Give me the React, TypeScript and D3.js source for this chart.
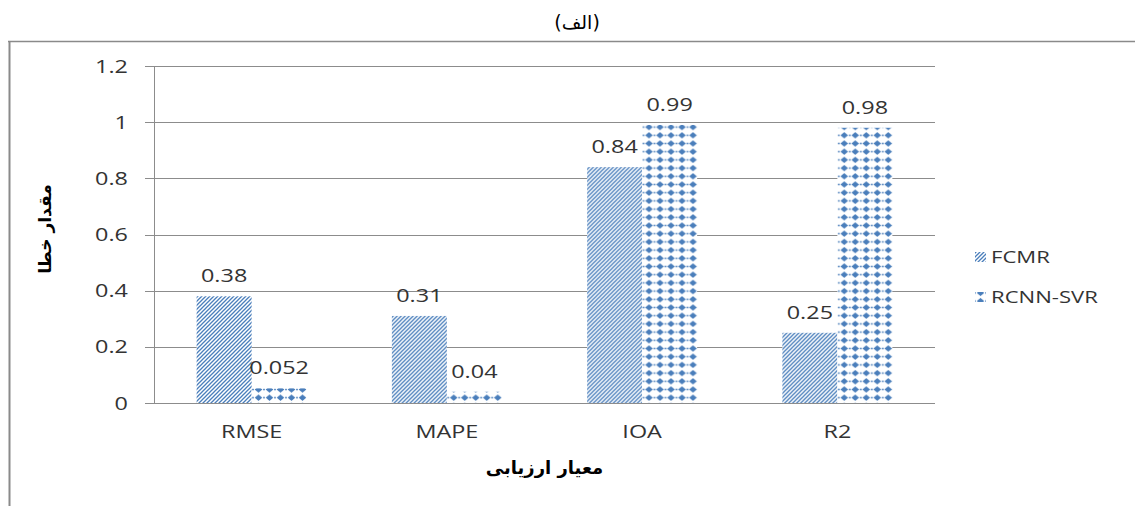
import React from "react";
import * as d3 from "d3";

// Evaluation metrics on the x axis
const categories = ["RMSE", "MAPE", "IOA", "R2"];
// Series values per metric
const fcmrValues = [0.38, 0.31, 0.84, 0.25];
const rcnnValues = [0.052, 0.04, 0.99, 0.98];
const seriesNames = ["FCMR", "RCNN-SVR"];
const seriesValues = [fcmrValues, rcnnValues];
const valueLabels = [
  ["0.38", "0.31", "0.84", "0.25"],
  ["0.052", "0.04", "0.99", "0.98"],
];
// Y axis ticks
const yTicks = [0, 0.2, 0.4, 0.6, 0.8, 1, 1.2];
const yTickLabels = ["0", "0.2", "0.4", "0.6", "0.8", "1", "1.2"];

const W = 1135;
const H = 506;
const plot = { left: 154, right: 935, top: 66, bottom: 403 };
const NUM_FONT = "'Open Sans', 'DejaVu Sans', sans-serif";
const AR_FONT = "'DejaVu Sans', 'Noto Sans', sans-serif";
const TEXT_COLOR = "#333333";
const GRID = "#8c8c8c";
const BLUE = "#4a7ebb";
const SX = 1.3; // horizontal stretch applied to the Latin labels

const patternIds = ["pat-diag", "pat-diamond"];

function Stretched({ x, y, size, anchor, children, weight }: any) {
  return (
    <text
      transform={`translate(${x},${y}) scale(${SX},1)`}
      fontFamily={NUM_FONT}
      fontSize={size}
      fontWeight={weight || "normal"}
      fill={TEXT_COLOR}
      textAnchor={anchor || "middle"}
    >
      {children}
    </text>
  );
}

export default function App() {
  const x0 = d3
    .scaleBand<string>()
    .domain(categories)
    .range([plot.left, plot.right])
    .padding(0);
  const step = x0.bandwidth();
  const barW = 55;
  const x1 = d3
    .scaleBand<string>()
    .domain(seriesNames)
    .range([step / 2 - barW, step / 2 + barW])
    .padding(0);
  const y = d3.scaleLinear().domain([0, 1.2]).range([plot.bottom, plot.top]);

  return (
    <svg
      width={W}
      height={H}
      style={{ position: "absolute", left: 0, top: 0, background: "#fff" }}
    >
      <defs>
        <pattern
          id="pat-diag"
          patternUnits="userSpaceOnUse"
          width={4}
          height={4}
        >
          <rect width={4} height={4} fill="#ffffff" />
          <path
            d="M-1,1 l2,-2 M0,4 l4,-4 M3,5 l2,-2"
            stroke={BLUE}
            strokeWidth={1.3}
          />
        </pattern>
        <pattern
          id="pat-diamond"
          patternUnits="userSpaceOnUse"
          width={11}
          height={8.2}
        >
          <rect width={11} height={8.2} fill="#ffffff" />
          <polygon points="5.5,1 9.3,4.1 5.5,7.2 1.7,4.1" fill={BLUE} />
          <circle cx={0} cy={4.1} r={0.9} fill={BLUE} />
          <circle cx={11} cy={4.1} r={0.9} fill={BLUE} />
        </pattern>
      </defs>

      {/* frame */}
      <line x1={8} x2={W} y1={41.5} y2={41.5} stroke="#8a8a8a" strokeWidth={1.5} />
      <line x1={9.5} x2={9.5} y1={41} y2={H} stroke="#8a8a8a" strokeWidth={2} />

      {/* title */}
      <text
        x={577}
        y={29}
        fontFamily={AR_FONT}
        fontSize={19}
        textAnchor="middle"
        fill="#000"
      >
        (الف)
      </text>

      {/* gridlines and y ticks */}
      {yTicks.map((t, i) => (
        <g key={t}>
          <line
            x1={plot.left - 9}
            x2={plot.right}
            y1={Math.round(y(t)) + 0.5}
            y2={Math.round(y(t)) + 0.5}
            stroke={GRID}
            strokeWidth={1}
          />
          <Stretched x={128} y={y(t) + 6.5} size={18} anchor="end">
            {yTickLabels[i]}
          </Stretched>
        </g>
      ))}
      <line
        x1={plot.left + 0.5}
        x2={plot.left + 0.5}
        y1={plot.top}
        y2={plot.bottom}
        stroke={GRID}
        strokeWidth={1}
      />

      {/* bars */}
      {categories.map((c, ci) => (
        <g key={c} transform={`translate(${x0(c)},0)`}>
          {seriesNames.map((s, si) => {
            const v = seriesValues[si][ci];
            const bx = x1(s) as number;
            return (
              <g key={s}>
                <rect
                  x={bx}
                  y={y(v)}
                  width={x1.bandwidth()}
                  height={y(0) - y(v)}
                  fill={`url(#${patternIds[si]})`}
                />
                <Stretched
                  x={bx + x1.bandwidth() / 2}
                  y={y(v) - 14}
                  size={18}
                >
                  {valueLabels[si][ci]}
                </Stretched>
              </g>
            );
          })}
          <Stretched x={step / 2} y={438} size={18}>
            {c}
          </Stretched>
        </g>
      ))}

      {/* axis titles */}
      <text
        x={(plot.left + plot.right) / 2}
        y={474}
        fontFamily={AR_FONT}
        fontSize={18}
        fontWeight="bold"
        textAnchor="middle"
        fill="#000"
      >
        معیار ارزیابی
      </text>
      <text
        transform="translate(51,229) rotate(-90)"
        fontFamily={AR_FONT}
        fontSize={17}
        fontWeight="bold"
        textAnchor="middle"
        fill="#000"
      >
        مقدار خطا
      </text>

      {/* legend */}
      {seriesNames.map((s, si) => (
        <g key={s} transform={`translate(975,${257 + si * 40})`}>
          <rect
            x={0}
            y={-5}
            width={11}
            height={10}
            fill={`url(#${patternIds[si]})`}
          />
          <Stretched x={16} y={6} size={17} anchor="start">
            {s}
          </Stretched>
        </g>
      ))}
    </svg>
  );
}
